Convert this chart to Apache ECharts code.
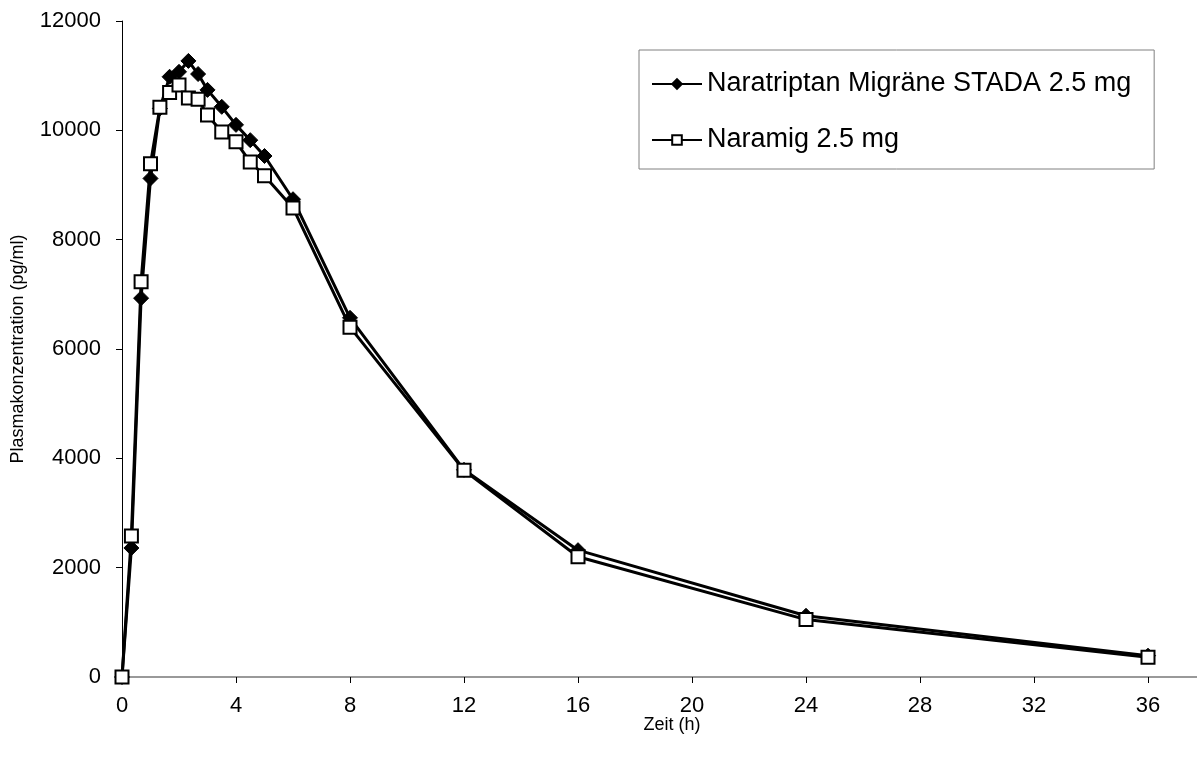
<!DOCTYPE html>
<html>
<head>
<meta charset="utf-8">
<script src="https://cdn.jsdelivr.net/npm/echarts@6/dist/echarts.min.js"></script>
<style>
html,body{margin:0;padding:0;background:#fff;}
#chart{width:1197px;height:760px;}
</style>
</head>
<body>
<div id="chart"></div>
<script>
const times = [0, 0.33, 0.67, 1, 1.33, 1.67, 2, 2.33, 2.67, 3, 3.5, 4, 4.5, 5, 6, 8, 12, 16, 24, 36];
const stada = [0, 2360, 6930, 9120, 10400, 10980, 11070, 11270, 11030, 10740, 10430, 10100, 9820, 9530, 8740, 6570, 3790, 2320, 1120, 390];
const naramig = [0, 2580, 7230, 9390, 10420, 10690, 10830, 10590, 10570, 10280, 9970, 9790, 9420, 9170, 8580, 6400, 3780, 2200, 1050, 360];
const seriesNames = ['Naratriptan Migräne STADA 2.5 mg', 'Naramig 2.5 mg'];
const xTitle = 'Zeit (h)';
const yTitle = 'Plasmakonzentration (pg/ml)';

const font = 'Liberation Sans, Arial, sans-serif';
const chart = echarts.init(document.getElementById('chart'));
chart.setOption({
  animation: false,
  backgroundColor: '#fff',
  textStyle: { fontFamily: font, color: '#000' },
  grid: { left: 122, top: 21, width: 1140, bottom: 83, containLabel: false, outerBoundsMode: 'none' },
  legend: {
    orient: 'vertical',
    left: 639,
    top: 50,
    padding: [19, 23, 14, 12],
    itemGap: 26,
    itemWidth: 50,
    itemHeight: 12,
    borderColor: '#808080',
    borderWidth: 1,
    textStyle: { fontSize: 27, lineHeight: 30, color: '#000', fontFamily: font },
    data: seriesNames
  },
  xAxis: [{
    type: 'value',
    min: 0, max: 40, interval: 4,
    name: xTitle,
    nameLocation: 'middle',
    nameGap: 39,
    nameMoveOverlap: false,
    nameTextStyle: { fontSize: 18, color: '#000', fontFamily: font, padding: [0, 40, 0, 0] },
    axisLine: { show: true, onZero: false, lineStyle: { color: '#000', width: 1 } },
    axisTick: { show: true, inside: false, length: 6, lineStyle: { color: '#000' } },
    axisLabel: { fontSize: 22, color: '#000', margin: 18, fontFamily: font },
    splitLine: { show: false }
  }, {
    type: 'value',
    position: 'top',
    min: 0, max: 40,
    axisLine: { show: true, lineStyle: { color: '#999', width: 2 } },
    axisTick: { show: false },
    axisLabel: { show: false },
    splitLine: { show: false }
  }],
  yAxis: {
    type: 'value',
    min: 0, max: 12000, interval: 2000,
    name: yTitle,
    nameLocation: 'middle',
    nameGap: 95,
    nameTextStyle: { fontSize: 18, color: '#000', fontFamily: font },
    axisLine: { show: true, lineStyle: { color: '#000', width: 1 } },
    axisTick: { show: true, inside: false, length: 6, lineStyle: { color: '#000' } },
    axisLabel: { fontSize: 22, color: '#000', margin: 21, fontFamily: font, formatter: v => String(v) },
    splitLine: { show: false }
  },
  series: [{
    name: seriesNames[0],
    type: 'line',
    clip: false,
    data: times.map((t, i) => [t, stada[i]]),
    symbol: 'diamond',
    symbolSize: 15,
    lineStyle: { color: '#000', width: 3 },
    itemStyle: { color: '#000', borderColor: '#000', borderWidth: 1 },
    z: 2
  }, {
    name: seriesNames[1],
    type: 'line',
    clip: false,
    data: times.map((t, i) => [t, naramig[i]]),
    symbol: 'rect',
    symbolSize: 13,
    lineStyle: { color: '#000', width: 3 },
    itemStyle: { color: '#fff', borderColor: '#000', borderWidth: 2 },
    z: 3
  }]
});
</script>
</body>
</html>
